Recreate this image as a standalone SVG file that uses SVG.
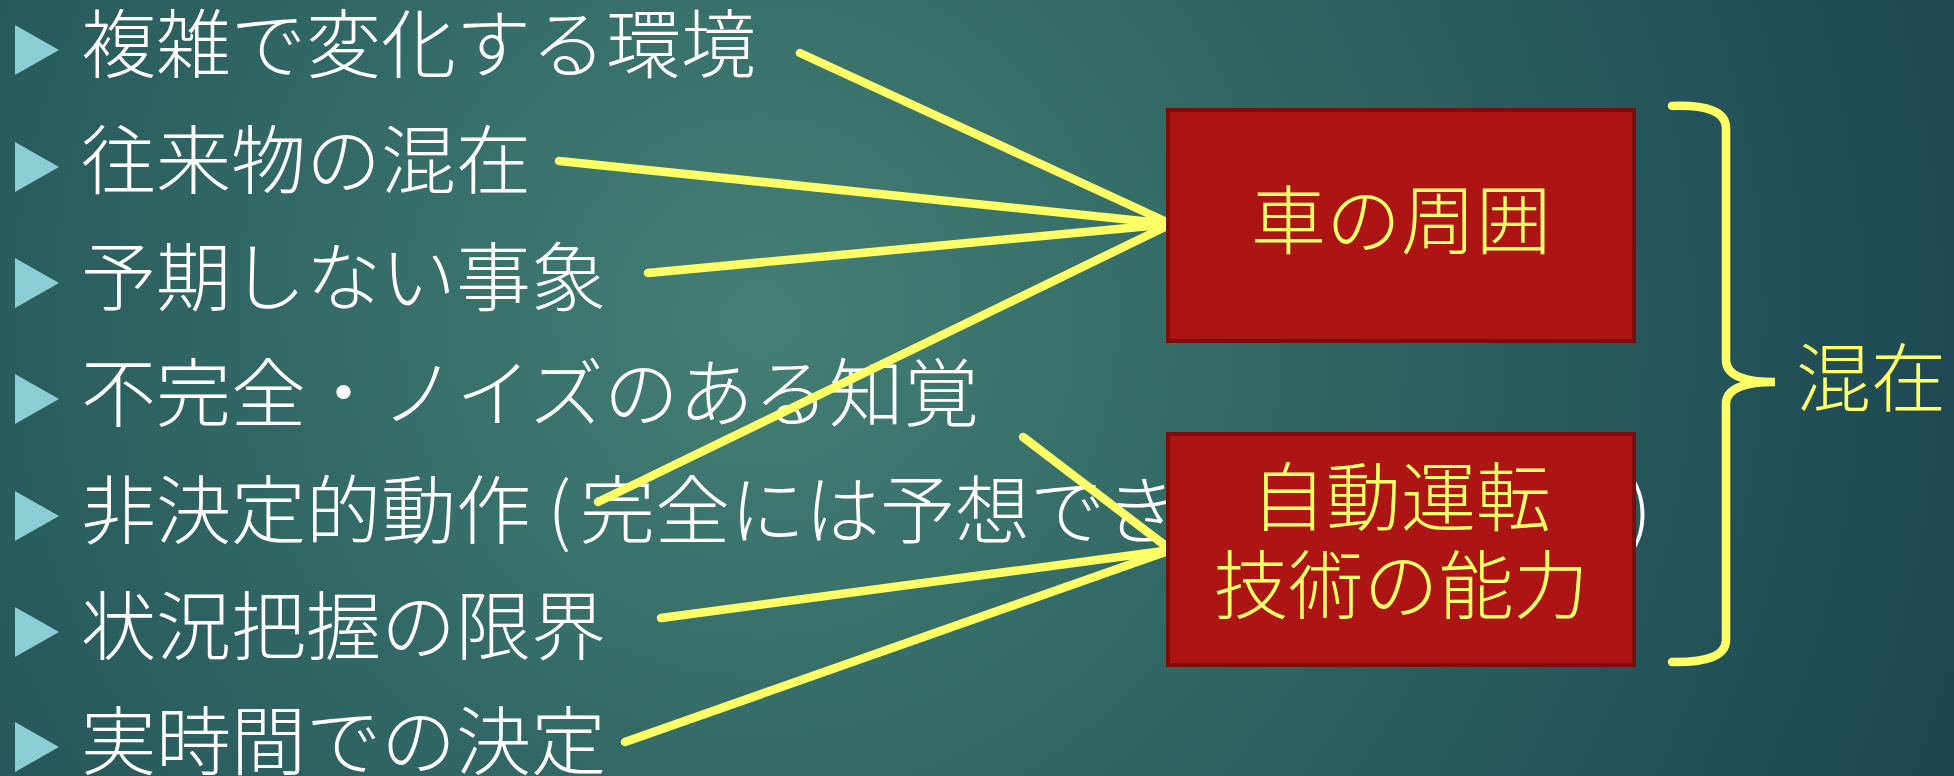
<svg xmlns="http://www.w3.org/2000/svg" width="1954" height="776" viewBox="0 0 1954 776">
<defs>
<radialGradient id="bg" cx="760" cy="320" r="1250" gradientUnits="userSpaceOnUse">
<stop offset="0" stop-color="#447f74"/>
<stop offset="0.45" stop-color="#2f6563"/>
<stop offset="1" stop-color="#1c4652"/>
</radialGradient>
<polygon id="tri" points="0,-25 44,0 0,25"/>
</defs>
<style>
.item{font-family:"Noto Sans CJK JP","Noto Sans",sans-serif;font-size:75px;fill:#ffffff;font-weight:300}
.bul{fill:#8bcdd4}
.box{fill:#ad1515;stroke:#7d0d0d;stroke-width:4}
.btxt{font-family:"Noto Sans CJK JP","Noto Sans",sans-serif;font-size:75px;fill:#ffff66;text-anchor:middle;font-weight:300}
.conn{stroke:#ffff66;stroke-width:8.5;stroke-linecap:round;fill:none}
</style>
<rect width="1954" height="776" fill="url(#bg)"/>
<g id="items">
<g id="item1"><use href="#tri" class="bul" x="15" y="50"/><text class="item" x="81" y="72">複雑で変化する環境</text></g>
<g id="item2"><use href="#tri" class="bul" x="15" y="167"/><text class="item" x="81" y="188">往来物の混在</text></g>
<g id="item3"><use href="#tri" class="bul" x="15" y="283"/><text class="item" x="81" y="305">予期しない事象</text></g>
<g id="item4"><use href="#tri" class="bul" x="15" y="399"/><text class="item" x="81" y="421">不完全・ノイズのある知覚</text></g>
<g id="item5"><use href="#tri" class="bul" x="15" y="516"/><text class="item" x="81" y="538">非決定的動作 (<tspan x="580">完全には予想でき</tspan></text><text class="item" x="1628" y="538">)</text></g>
<g id="item6"><use href="#tri" class="bul" x="15" y="632"/><text class="item" x="81" y="654">状況把握の限界</text></g>
<g id="item7"><use href="#tri" class="bul" x="15" y="747"/><text class="item" x="81" y="769">実時間での決定</text></g>
</g>
<g id="connectors">
<line class="conn" x1="800" y1="53" x2="1171" y2="224"/>
<line class="conn" x1="559" y1="161" x2="1171" y2="224"/>
<line class="conn" x1="648" y1="273" x2="1171" y2="224"/>
<line class="conn" x1="598" y1="502" x2="1171" y2="224"/>
<line class="conn" x1="1023" y1="437" x2="1171" y2="550"/>
<line class="conn" x1="661" y1="618" x2="1171" y2="550"/>
<line class="conn" x1="625" y1="742" x2="1171" y2="550"/>
<path class="conn" stroke-width="10" d="M1672,106 Q1726,104 1726,128 L1726,360 Q1726,382 1775,382 Q1726,382 1726,404 L1726,640 Q1726,663 1672,662"/>
</g>
<g id="box1"><rect class="box" x="1168" y="110" width="466" height="231"/><text class="btxt" x="1401" y="248">車の周囲</text></g>
<g id="box2"><rect class="box" x="1168" y="434" width="466" height="231"/><text class="btxt" x="1401" y="525">自動運転</text><text class="btxt" x="1401" y="613">技術の能力</text></g>
<g id="label"><text class="btxt" style="text-anchor:start" x="1796" y="406">混在</text></g>
</svg>
